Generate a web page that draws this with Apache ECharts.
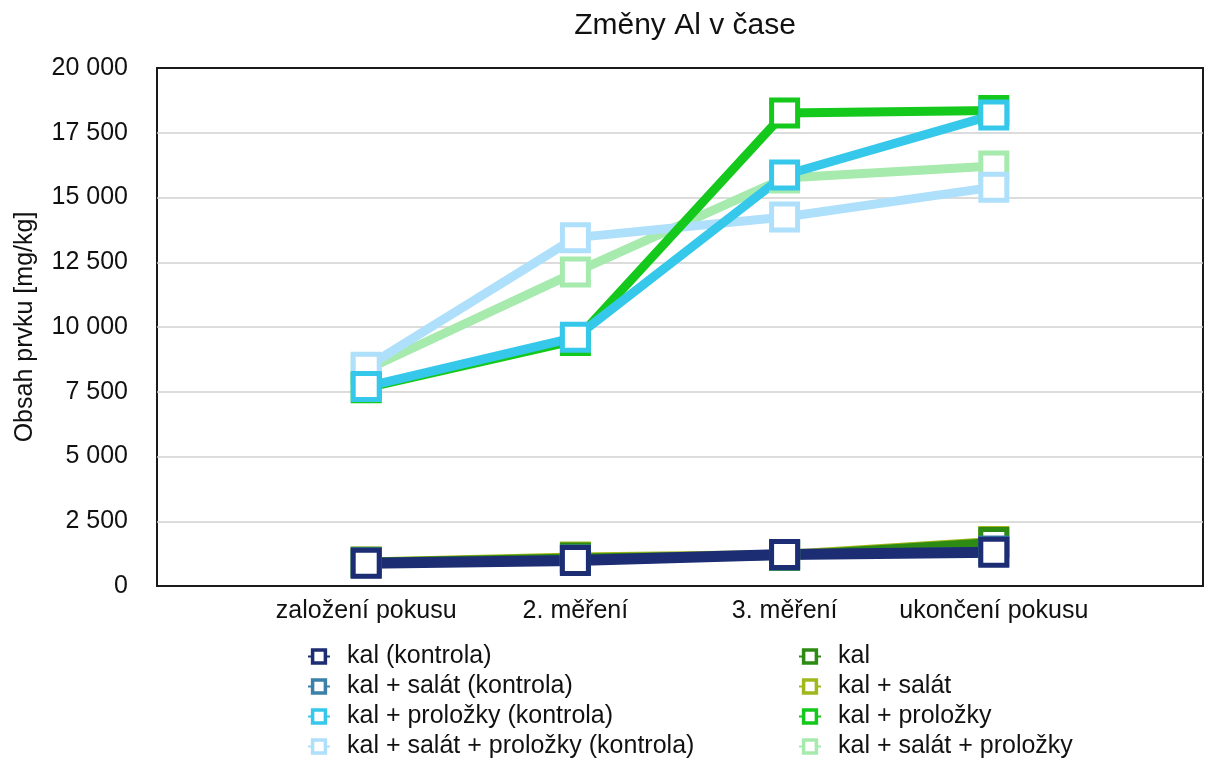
<!DOCTYPE html>
<html>
<head>
<meta charset="utf-8">
<script src="https://cdn.jsdelivr.net/npm/echarts@6/dist/echarts.min.js"></script>
<style>
  html, body { margin: 0; padding: 0; background: #fff; }
  #chart { width: 1209px; height: 760px; }
</style>
</head>
<body>
<div id="chart"></div>
<script>
// categories (empty slots at both ends keep the spacing of the original)
const categories = ["", "založení pokusu", "2. měření", "3. měření", "ukončení pokusu", ""];
const yTicks = [0, 2500, 5000, 7500, 10000, 12500, 15000, 17500, 20000];

// values [mg/kg]
const kalKontrola = [880, 980, 1220, 1300];
const kalSalatKontrola = [900, 1000, 1200, 1350];
const kalProlozkyKontrola = [7700, 9600, 15870, 18190];
const kalSalatProlozkyKontrola = [8450, 13450, 14250, 15400];
const kal = [920, 1080, 1180, 1680];
const kalSalat = [930, 1120, 1220, 1720];
const kalProlozky = [7650, 9480, 18260, 18360];
const kalSalatProlozky = [8350, 12120, 15750, 16220];

const font = "'Liberation Sans', Arial, sans-serif";

function pad(arr) {
  return [null].concat(arr, [null]);
}

function line(name, data, color, width) {
  return {
    name: name,
    type: "line",
    data: pad(data),
    symbol: "rect",
    symbolSize: 26,
    showSymbol: true,
    lineStyle: { color: color, width: width || 9 },
    itemStyle: { color: "#fff", borderColor: color, borderWidth: 5 },
    emphasis: { disabled: true }
  };
}

const legendLeft = [
  "kal (kontrola)",
  "kal + salát (kontrola)",
  "kal + proložky (kontrola)",
  "kal + salát + proložky (kontrola)"
];
const legendRight = ["kal", "kal + salát", "kal + proložky", "kal + salát + proložky"];

const legendBase = {
  orient: "vertical",
  top: 642,
  height: 200,
  padding: 0,
  itemWidth: 22,
  itemHeight: 16,
  itemGap: 1,
  selectedMode: false,
  itemStyle: { borderWidth: 3.5 },
  textStyle: {
    fontFamily: font,
    fontSize: 25,
    color: "#111",
    lineHeight: 29,
    padding: [0, 0, 0, 12]
  }
};

const chart = echarts.init(document.getElementById("chart"));
chart.setOption({
  animation: false,
  backgroundColor: "#fff",
  title: {
    text: "Změny Al v čase",
    left: 680,
    top: 6,
    textAlign: "center",
    textStyle: { fontFamily: font, fontSize: 30, fontWeight: "normal", color: "#111" }
  },
  legend: [
    Object.assign({}, legendBase, { left: 307, data: legendLeft }),
    Object.assign({}, legendBase, { left: 798, data: legendRight })
  ],
  grid: {
    left: 157,
    right: 6,
    top: 68,
    bottom: 174,
    show: true,
    borderColor: "#1a1a1a",
    borderWidth: 2,
    containLabel: false
  },
  xAxis: {
    type: "category",
    data: categories,
    boundaryGap: false,
    axisLine: { show: false },
    axisTick: { show: false },
    splitLine: { show: false },
    axisLabel: { fontFamily: font, fontSize: 25, color: "#111", margin: 13, interval: 0 }
  },
  yAxis: {
    type: "value",
    min: yTicks[0],
    max: yTicks[yTicks.length - 1],
    interval: 2500,
    name: "Obsah prvku [mg/kg]",
    nameLocation: "middle",
    nameGap: 119,
    nameTextStyle: { fontFamily: font, fontSize: 25, color: "#111" },
    axisLine: { show: false },
    axisTick: { show: false },
    splitLine: {
      showMinLine: false,
      showMaxLine: false,
      lineStyle: { color: "#d0d0d0", width: 1.5 }
    },
    axisLabel: {
      fontFamily: font,
      fontSize: 25,
      color: "#111",
      margin: 29,
      formatter: function (v) {
        return String(v).replace(/\B(?=(\d{3})+(?!\d))/g, " ");
      }
    }
  },
  series: [
    line("kal + salát + proložky", kalSalatProlozky, "#a6eaae"),
    line("kal + salát + proložky (kontrola)", kalSalatProlozkyKontrola, "#aee0fb"),
    line("kal + proložky", kalProlozky, "#15c81c"),
    line("kal + proložky (kontrola)", kalProlozkyKontrola, "#35c8ea"),
    line("kal + salát", kalSalat, "#a0b81c"),
    line("kal", kal, "#2d8a13"),
    line("kal + salát (kontrola)", kalSalatKontrola, "#3a80a8"),
    line("kal (kontrola)", kalKontrola, "#1c2d73", 11)
  ]
});
</script>
</body>
</html>
